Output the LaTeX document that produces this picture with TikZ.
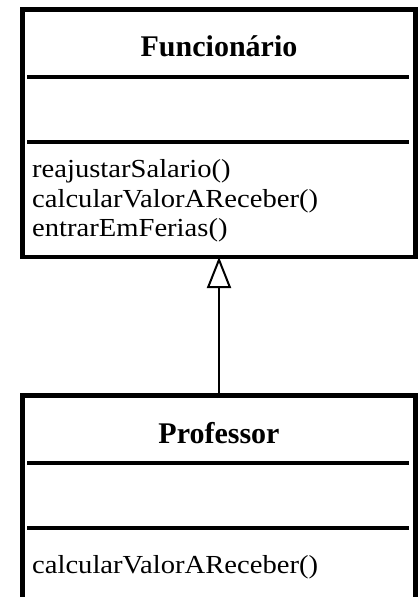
\documentclass[tikz,border=0pt]{standalone}
\usepackage{fontspec}
\setmainfont{Liberation Serif}
\newfontfamily\methfont[FakeStretch=1.1]{Liberation Serif}
\usetikzlibrary{arrows.meta}
\begin{document}
\begin{tikzpicture}[x=1pt,y=-1pt,
  classbox/.style={draw, line width=4.5pt, outer sep=0pt, inner sep=0pt, anchor=north west},
  sepline/.style={line width=4pt},
  classname/.style={font=\fontsize{30}{30}\selectfont\bfseries, anchor=base, inner sep=0pt},
  method/.style={font=\fontsize{26}{26}\methfont, anchor=base west, inner sep=0pt},
  inherit/.style={line width=2pt, -{Triangle[open, length=31pt, width=24pt, line width=2pt]}}]
  \useasboundingbox (0,0) rectangle (419,597);
  \clip (0,0) rectangle (419,597);

  % superclass
  \node[classbox, minimum width=393pt, minimum height=247.5pt] (func) at (22.5,9.5) {};
  \node[classname] (funcname) at (219,56.5) {Funcionário};
  \draw[sepline] (27,76.5) -- (409,76.5);
  \draw[sepline] (27,142) -- (409,142);
  \node[method] (m1) at (32,177) {reajustarSalario()};
  \node[method] (m2) at (32,207) {calcularValorAReceber()};
  \node[method] (m3) at (32,236) {entrarEmFerias()};

  % subclass
  \node[classbox, minimum width=393pt, minimum height=240pt] (prof) at (22.5,395.5) {};
  \node[classname] (profname) at (219,443) {Professor};
  \draw[sepline] (27,462.5) -- (409,462.5);
  \draw[sepline] (27,527.5) -- (409,527.5);
  \node[method] (m4) at (32,573) {calcularValorAReceber()};

  % generalization
  \draw[inherit] (prof.north) -- (func.south);
\end{tikzpicture}
\end{document}
